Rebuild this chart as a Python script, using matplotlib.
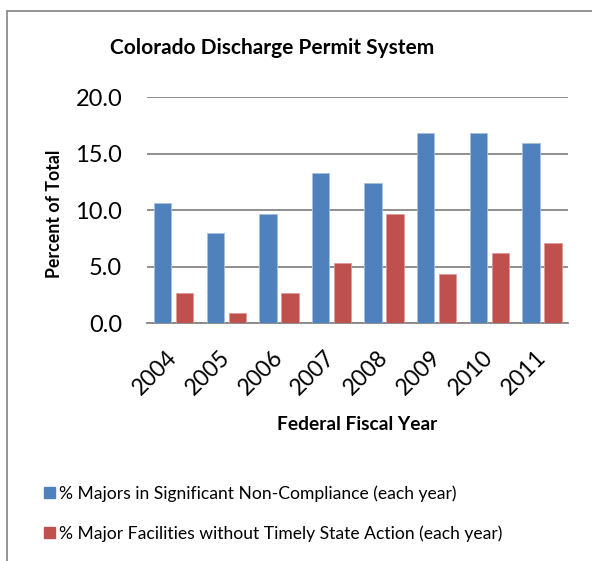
import matplotlib
matplotlib.use("Agg")
import matplotlib.pyplot as plt
import matplotlib.transforms as mtransforms
from matplotlib.patches import Patch, Rectangle
import numpy as np

years = ["2004", "2005", "2006", "2007", "2008", "2009", "2010", "2011"]
sig_noncompliance = [10.6, 8.0, 9.7, 13.3, 12.4, 16.8, 16.8, 15.9]
no_timely_action = [2.7, 0.9, 2.7, 5.3, 9.7, 4.4, 6.2, 7.1]
series_names = ["% Majors in Significant Non-Compliance (each year)",
                "% Major Facilities without Timely State Action (each year)"]
yticks = [0, 5, 10, 15, 20]

BLUE = "#4F81BD"
RED = "#C0504D"
GRID = "#868686"
FONT = ["Lato", "DejaVu Sans"]
plt.rcParams["font.family"] = FONT

W, H = 592, 561
fig = plt.figure(figsize=(W / 100, H / 100), dpi=100)

# outer chart frame
fig.patches.append(Rectangle((7 / W, -0.05), 1.2, (H - 11) / H + 0.05,
                             transform=fig.transFigure, fill=False,
                             edgecolor="#8C8C8C", linewidth=1.3))

ax = fig.add_axes([147.3 / W, 1 - 323.3 / H, (568.3 - 147.3) / W, (323.3 - 97) / H])
x = np.arange(len(years))
bw = 0.33
off = 0.209
ax.bar(x - off, sig_noncompliance, bw, color=BLUE, edgecolor="#A7C0DE", linewidth=0.6, zorder=3)
ax.bar(x + off, no_timely_action, bw, color=RED, edgecolor="#DC9A98", linewidth=0.6, zorder=3)

ax.set_xlim(-0.5, len(years) - 0.5)
ax.set_ylim(0, 20)
ax.set_yticks(yticks)
ax.set_yticklabels([f"{v:.1f}" for v in yticks], fontsize=17)
ax.yaxis.grid(True, color=GRID, linewidth=1.3, zorder=0)
ax.set_axisbelow(True)
for s in ["top", "right", "left"]:
    ax.spines[s].set_visible(False)
ax.spines["bottom"].set_color(GRID)
ax.spines["bottom"].set_linewidth(1.3)
ax.tick_params(axis="y", length=0, pad=18)
ax.tick_params(axis="x", length=0, pad=4)
ax.set_xticks(x)
ax.set_xticklabels(years, fontsize=16.5, rotation=45, ha="right", va="top",
                   rotation_mode="anchor")
for lbl in ax.get_xticklabels():
    lbl.set_transform(lbl.get_transform() + mtransforms.ScaledTranslation(-7 / 100, -18 / 100, fig.dpi_scale_trans))

fig.text(272.5 / W, 1 - 48 / H, "Colorado Discharge Permit System", ha="center", va="center",
         fontsize=15, fontweight="bold")
fig.text(54 / W, 1 - 214 / H, "Percent of Total", ha="center", va="center", rotation=90,
         fontsize=12.8, fontweight="bold")
fig.text(357.5 / W, 1 - 424 / H, "Federal Fiscal Year", ha="center", va="center",
         fontsize=13.8, fontweight="bold")

handles = [Patch(facecolor=BLUE, edgecolor=BLUE), Patch(facecolor=RED, edgecolor=RED)]
fig.legend(handles, series_names, loc="upper left", bbox_to_anchor=(44 / W, 1 - 485 / H),
           frameon=False, fontsize=12.6, handlelength=0.65, handleheight=0.65,
           handletextpad=0.2, labelspacing=1.35, borderpad=0, borderaxespad=0)

fig.savefig("out.png", dpi=100)
